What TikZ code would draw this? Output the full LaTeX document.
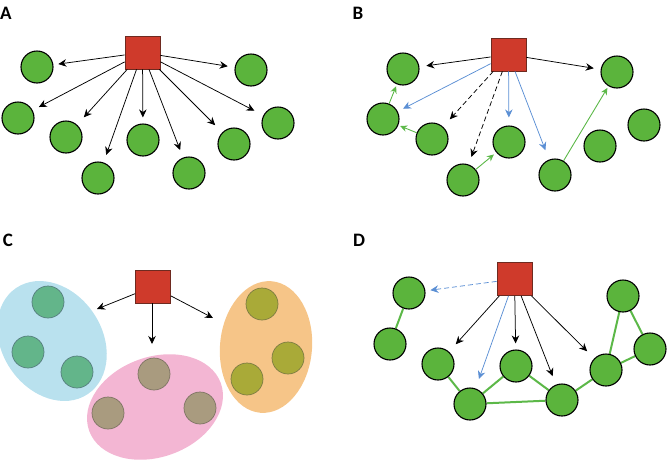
\documentclass[tikz,border=0pt]{standalone}
\usepackage{fontspec}
\setmainfont{Carlito}
\usetikzlibrary{arrows.meta,shapes.geometric,backgrounds}
\definecolor{sqred}{HTML}{CF3A2B}
\definecolor{sqborder}{HTML}{6E2A20}
\definecolor{cgreen}{HTML}{5BB43C}
\definecolor{ablue}{HTML}{5B8FD4}
\definecolor{agreen}{HTML}{5CB848}
\definecolor{lgreen}{HTML}{5CB848}
\definecolor{eblue}{HTML}{B9E1EE}
\definecolor{epink}{HTML}{F3B6D3}
\definecolor{eorange}{HTML}{F6C588}
\definecolor{cteal}{HTML}{63B58A}
\definecolor{cteald}{HTML}{557E7E}
\definecolor{cbrown}{HTML}{A99B7F}
\definecolor{cbrownd}{HTML}{7E7464}
\definecolor{colive}{HTML}{A9AA38}
\definecolor{colived}{HTML}{7C7C42}
\begin{document}
\begin{tikzpicture}[x=1pt,y=1pt,
  gc/.style={circle,draw=black,fill=cgreen,line width=1.1pt,minimum size=32pt,inner sep=0pt},
  tc/.style={circle,draw=cteald,fill=cteal,line width=0.7pt,minimum size=32pt,inner sep=0pt},
  bc/.style={circle,draw=cbrownd,fill=cbrown,line width=0.7pt,minimum size=32pt,inner sep=0pt},
  oc/.style={circle,draw=colived,fill=colive,line width=0.7pt,minimum size=32pt,inner sep=0pt},
  sq/.style={rectangle,draw=sqborder,fill=sqred,line width=0.8pt,minimum width=35pt,minimum height=33pt,inner sep=0pt},
  arr/.style={-{Stealth[length=8pt,width=7.5pt]},line width=0.75pt,shorten >=8pt},
  barr/.style={arr,draw=ablue,color=ablue},
  darr/.style={arr,dash pattern=on 5pt off 3pt},
  garr/.style={-{Stealth[length=7pt,width=6.5pt]},draw=agreen,color=agreen,line width=0.9pt,shorten >=2pt},
  link/.style={draw=lgreen,line width=2pt},
  lab/.style={font=\fontsize{19}{19}\selectfont\bfseries,inner sep=0pt}
]
\useasboundingbox (0,0) rectangle (670,-472);
% labels
\node[lab] (la) at (6,-13) {A};
\node[lab] (lb) at (358,-13) {B};
\node[lab] (lc) at (8,-240) {C};
\node[lab] (ld) at (359,-240) {D};

% ---------- Panel A ----------
\node[sq] (sA) at (142.5,-52.5) {};
\node[gc] (a1) at (37,-67) {};
\node[gc] (a2) at (18,-118) {};
\node[gc] (a3) at (66,-137) {};
\node[gc] (a4) at (98,-178) {};
\node[gc] (a5) at (143,-140) {};
\node[gc] (a6) at (189,-173) {};
\node[gc] (a7) at (234,-144) {};
\node[gc] (a8) at (278,-123) {};
\node[gc] (a9) at (251,-70) {};
\draw[arr,shorten >=5pt] (sA) -- (a1);
\draw[arr,shorten >=7pt] (sA) -- (a2);
\draw[arr,shorten >=10pt] (sA) -- (a3);
\draw[arr] (sA) -- (a4);
\draw[arr,shorten >=6pt] (sA) -- (a5);
\draw[arr] (sA) -- (a6);
\draw[arr,shorten >=10pt] (sA) -- (a7);
\draw[arr,shorten >=10pt] (sA) -- (a8);
\draw[arr,shorten >=7pt] (sA) -- (a9);

% ---------- Panel B ----------
\node[sq] (sB) at (508.5,-54.5) {};
\node[gc] (b1) at (403,-69) {};
\node[gc] (b2) at (383,-119) {};
\node[gc] (b3) at (432,-139) {};
\node[gc] (b4) at (463,-180) {};
\node[gc] (b5) at (509,-142) {};
\node[gc] (b6) at (555,-175) {};
\node[gc] (b7) at (600,-146) {};
\node[gc] (b8) at (644,-125) {};
\node[gc] (b9) at (617,-72) {};
\draw[arr,shorten >=7pt] (sB) -- (b1);
\draw[arr,shorten >=7pt] (sB) -- (b9);
\draw[barr,shorten >=6pt] (sB) -- (b2);
\draw[darr,shorten >=10pt] (sB) -- (b3);
\draw[darr] (sB) -- (b4);
\draw[barr] (sB) -- (b5);
\draw[barr,shorten >=10pt] (sB) -- (b6);
\draw[garr] (b2) -- (b1);
\draw[garr] (b3) -- (b2);
\draw[garr,shorten >=3pt] (b4) -- (b5);
\draw[garr] (b6) -- (b9);

% ---------- Panel C ----------
\node[ellipse,fill=eblue,minimum width=128pt,minimum height=100pt,inner sep=0pt,rotate=-56] (gblue) at (52,-341) {};
\node[ellipse,fill=epink,minimum width=140pt,minimum height=100pt,inner sep=0pt,rotate=20] (gpink) at (155,-407) {};
\node[ellipse,fill=eorange,minimum width=92pt,minimum height=132pt,inner sep=0pt,rotate=-5] (gorange) at (266,-347) {};
\node[tc] (t1) at (48,-302) {};
\node[tc] (t2) at (28,-352) {};
\node[tc] (t3) at (77,-372) {};
\node[bc] (p1) at (154,-374) {};
\node[bc] (p2) at (108,-413) {};
\node[bc] (p3) at (200,-408) {};
\node[oc] (o1) at (262,-304) {};
\node[oc] (o2) at (288,-358) {};
\node[oc] (o3) at (247,-379) {};
\node[sq] (sC) at (153,-286.5) {};
\coordinate (cl) at (97,-309);
\coordinate (cd) at (152,-344);
\coordinate (cr) at (213,-318);
\draw[arr,shorten >=0pt] (sC) -- (cl);
\draw[arr,shorten >=0pt] (sC.south -| cd) -- (cd);
\draw[arr,shorten >=0pt] (sC) -- (cr);

% ---------- Panel D ----------
\node[gc] (d1) at (409,-293) {};
\node[gc] (d2) at (390,-344) {};
\node[gc] (d3) at (438,-364) {};
\node[gc] (d4) at (470,-404) {};
\node[gc] (d5) at (516,-366) {};
\node[gc] (d6) at (562,-400) {};
\node[gc] (d7) at (606,-370) {};
\node[gc] (d8) at (650,-349) {};
\node[gc] (d9) at (623,-296) {};
\begin{scope}[on background layer]
\draw[link] (d1) -- (d2);
\draw[link] (d3) -- (d4);
\draw[link] (d4) -- (d5);
\draw[link] (d4) -- (d6);
\draw[link] (d5) -- (d6);
\draw[link] (d6) -- (d7);
\draw[link] (d7) -- (d8);
\draw[link] (d7) -- (d9);
\draw[link] (d9) -- (d8);
\end{scope}
\node[sq] (sD) at (514.5,-279) {};
\draw[barr,dash pattern=on 5pt off 3pt,shorten >=5pt] (sD) -- (d1);
\draw[arr,shorten >=10pt] (sD) -- (d3);
\draw[barr,shorten >=10pt] (sD) -- (d4);
\draw[arr,shorten >=6pt] (sD) -- (d5);
\draw[arr,shorten >=9pt] (sD) -- (d6);
\draw[arr,shorten >=10pt] (sD) -- (d7);
\end{tikzpicture}
\end{document}
